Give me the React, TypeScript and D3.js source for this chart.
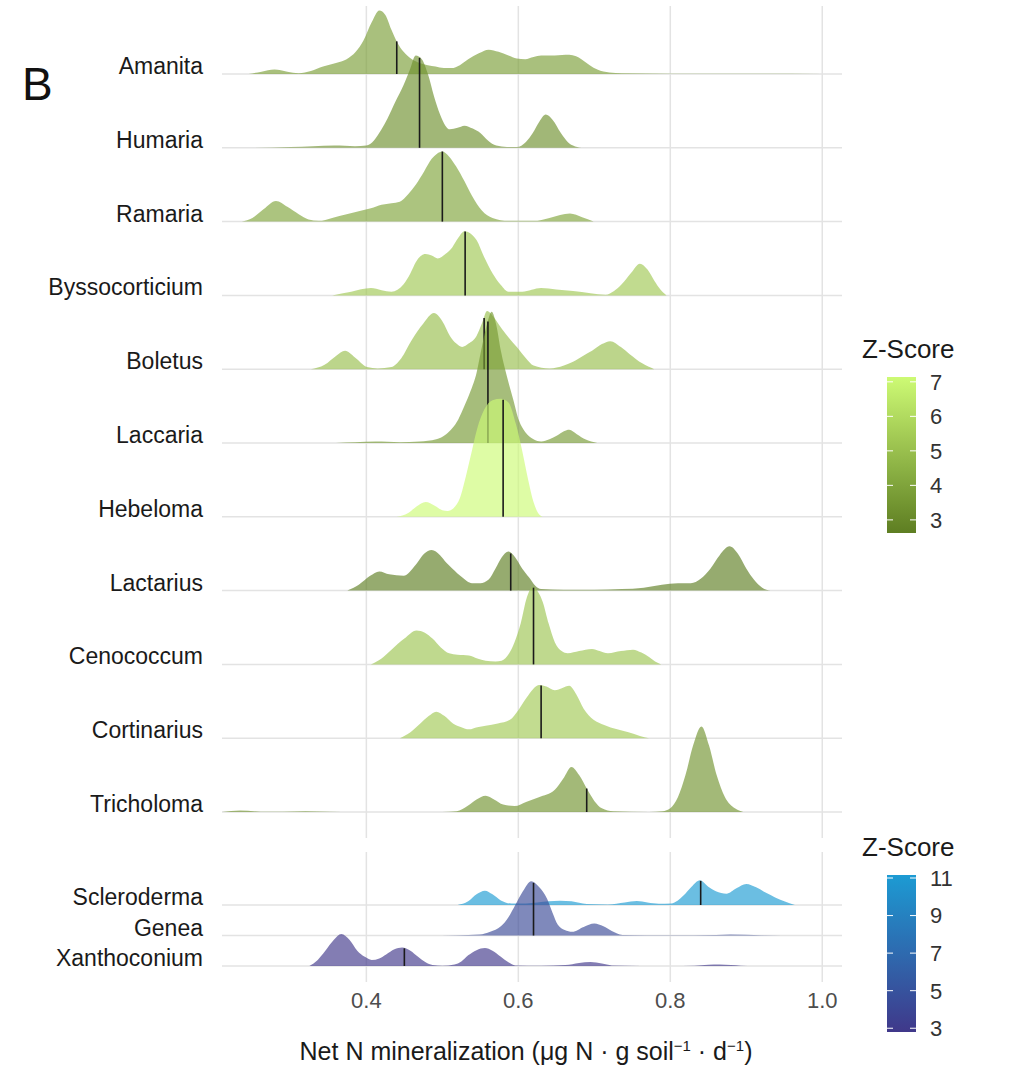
import * as d3 from "d3";

type Pt = [number, number];

// ridge densities: [net N mineralization, ridge height in row units]
const amanita: Pt[] = [[0.245,0],[0.262,0.03],[0.279,0.06],[0.296,0.03],[0.311,0.01],[0.327,0.04],[0.343,0.1],[0.36,0.15],[0.374,0.2],[0.386,0.3],[0.396,0.45],[0.407,0.7],[0.417,0.86],[0.425,0.8],[0.433,0.6],[0.441,0.42],[0.449,0.3],[0.46,0.2],[0.47,0.15],[0.481,0.12],[0.491,0.1],[0.502,0.08],[0.512,0.08],[0.523,0.12],[0.534,0.2],[0.548,0.28],[0.561,0.33],[0.574,0.3],[0.587,0.25],[0.598,0.21],[0.609,0.2],[0.62,0.23],[0.63,0.25],[0.648,0.25],[0.667,0.26],[0.676,0.24],[0.683,0.2],[0.694,0.12],[0.704,0.06],[0.72,0.02],[0.736,0.01],[0.8,0.005],[0.9,0.003],[1.0,0]];
const humaria: Pt[] = [[0.245,0],[0.3,0.01],[0.33,0.02],[0.358,0.03],[0.385,0.02],[0.4,0.03],[0.41,0.1],[0.42,0.25],[0.428,0.4],[0.438,0.62],[0.449,0.85],[0.457,1.05],[0.465,1.25],[0.473,1.2],[0.481,1.0],[0.489,0.7],[0.497,0.45],[0.504,0.3],[0.51,0.25],[0.52,0.27],[0.529,0.3],[0.54,0.26],[0.55,0.2],[0.56,0.1],[0.571,0.03],[0.585,0.01],[0.598,0.01],[0.61,0.08],[0.619,0.2],[0.628,0.36],[0.636,0.45],[0.645,0.38],[0.656,0.2],[0.665,0.08],[0.672,0.03],[0.683,0]];
const ramaria: Pt[] = [[0.236,0],[0.25,0.05],[0.265,0.17],[0.281,0.28],[0.296,0.2],[0.311,0.1],[0.324,0.03],[0.337,0.01],[0.355,0.05],[0.374,0.1],[0.39,0.14],[0.406,0.18],[0.42,0.23],[0.433,0.25],[0.444,0.27],[0.455,0.37],[0.465,0.5],[0.476,0.68],[0.486,0.85],[0.493,0.92],[0.5,0.95],[0.509,0.88],[0.518,0.75],[0.529,0.55],[0.539,0.35],[0.552,0.15],[0.566,0.05],[0.587,0.01],[0.62,0.01],[0.641,0.05],[0.655,0.09],[0.668,0.11],[0.684,0.06],[0.699,0]];
const byssocorticium: Pt[] = [[0.355,0],[0.38,0.05],[0.406,0.1],[0.42,0.07],[0.433,0.05],[0.449,0.15],[0.458,0.3],[0.465,0.45],[0.478,0.56],[0.486,0.54],[0.494,0.5],[0.504,0.56],[0.513,0.65],[0.521,0.78],[0.529,0.87],[0.537,0.84],[0.545,0.75],[0.555,0.52],[0.566,0.3],[0.577,0.14],[0.587,0.05],[0.605,0.05],[0.63,0.1],[0.65,0.08],[0.672,0.06],[0.695,0.03],[0.715,0.01],[0.726,0.06],[0.736,0.15],[0.748,0.3],[0.76,0.43],[0.77,0.35],[0.779,0.2],[0.787,0.08],[0.795,0]];
const boletus: Pt[] = [[0.327,0],[0.345,0.06],[0.36,0.18],[0.372,0.25],[0.385,0.16],[0.401,0.03],[0.415,0.01],[0.433,0.03],[0.446,0.15],[0.46,0.4],[0.475,0.62],[0.489,0.76],[0.5,0.65],[0.51,0.45],[0.518,0.35],[0.526,0.3],[0.535,0.35],[0.545,0.45],[0.552,0.62],[0.559,0.79],[0.568,0.7],[0.578,0.55],[0.588,0.42],[0.598,0.3],[0.61,0.15],[0.62,0.05],[0.641,0.01],[0.66,0.05],[0.672,0.1],[0.685,0.18],[0.697,0.25],[0.71,0.34],[0.721,0.38],[0.735,0.3],[0.747,0.2],[0.763,0.08],[0.779,0]];
const laccaria: Pt[] = [[0.36,0],[0.385,0.01],[0.412,0.02],[0.444,0.01],[0.47,0.02],[0.492,0.05],[0.505,0.12],[0.513,0.2],[0.521,0.32],[0.529,0.5],[0.537,0.7],[0.545,0.95],[0.552,1.3],[0.559,1.62],[0.565,1.78],[0.571,1.6],[0.577,1.25],[0.585,0.9],[0.593,0.6],[0.601,0.3],[0.609,0.15],[0.62,0.05],[0.63,0.02],[0.641,0.05],[0.651,0.1],[0.66,0.16],[0.667,0.18],[0.677,0.12],[0.688,0.05],[0.704,0]];
const hebeloma: Pt[] = [[0.44,0],[0.455,0.05],[0.466,0.14],[0.478,0.2],[0.49,0.15],[0.5,0.09],[0.507,0.08],[0.515,0.12],[0.523,0.25],[0.531,0.55],[0.539,0.9],[0.546,1.2],[0.555,1.45],[0.566,1.58],[0.577,1.6],[0.587,1.55],[0.597,1.25],[0.605,0.9],[0.613,0.5],[0.62,0.2],[0.626,0.05],[0.632,0]];
const lactarius: Pt[] = [[0.375,0],[0.39,0.08],[0.405,0.2],[0.417,0.26],[0.43,0.22],[0.449,0.2],[0.465,0.35],[0.476,0.5],[0.486,0.55],[0.497,0.48],[0.505,0.38],[0.513,0.3],[0.526,0.18],[0.539,0.1],[0.55,0.1],[0.561,0.15],[0.57,0.3],[0.578,0.45],[0.587,0.53],[0.596,0.45],[0.605,0.3],[0.614,0.18],[0.622,0.07],[0.63,0.02],[0.66,0.01],[0.7,0.01],[0.736,0.02],[0.765,0.04],[0.789,0.08],[0.81,0.1],[0.827,0.1],[0.84,0.16],[0.853,0.3],[0.865,0.48],[0.878,0.6],[0.889,0.5],[0.9,0.3],[0.91,0.15],[0.921,0.04],[0.932,0]];
const cenococcum: Pt[] = [[0.406,0],[0.42,0.08],[0.433,0.2],[0.45,0.35],[0.466,0.46],[0.477,0.43],[0.487,0.35],[0.498,0.23],[0.509,0.15],[0.52,0.13],[0.535,0.12],[0.546,0.08],[0.557,0.05],[0.57,0.04],[0.578,0.05],[0.588,0.15],[0.595,0.3],[0.603,0.55],[0.611,0.9],[0.619,1.05],[0.626,0.98],[0.632,0.85],[0.64,0.55],[0.648,0.3],[0.657,0.18],[0.665,0.15],[0.68,0.18],[0.697,0.21],[0.707,0.18],[0.718,0.15],[0.735,0.18],[0.751,0.2],[0.762,0.16],[0.772,0.1],[0.78,0.04],[0.788,0]];
const cortinarius: Pt[] = [[0.444,0],[0.458,0.08],[0.471,0.2],[0.482,0.3],[0.492,0.36],[0.503,0.3],[0.514,0.2],[0.525,0.15],[0.535,0.12],[0.546,0.15],[0.557,0.17],[0.573,0.2],[0.589,0.25],[0.6,0.38],[0.611,0.55],[0.619,0.66],[0.627,0.72],[0.637,0.7],[0.648,0.65],[0.658,0.68],[0.667,0.71],[0.676,0.6],[0.686,0.4],[0.699,0.25],[0.713,0.18],[0.73,0.12],[0.745,0.08],[0.76,0.03],[0.772,0]];
const tricholoma: Pt[] = [[0.21,0],[0.234,0.02],[0.261,0.005],[0.29,0.005],[0.32,0.01],[0.35,0.005],[0.385,0],[0.5,0],[0.519,0.01],[0.533,0.08],[0.545,0.17],[0.557,0.22],[0.568,0.17],[0.58,0.1],[0.595,0.08],[0.611,0.14],[0.627,0.2],[0.648,0.3],[0.659,0.45],[0.67,0.61],[0.68,0.5],[0.691,0.3],[0.7,0.15],[0.71,0.05],[0.725,0.01],[0.772,0],[0.79,0.01],[0.8,0.05],[0.81,0.2],[0.82,0.5],[0.83,0.9],[0.841,1.16],[0.851,0.9],[0.861,0.5],[0.872,0.2],[0.885,0.05],[0.896,0]];

const scleroderma: Pt[] = [[0.52,0],[0.534,0.12],[0.545,0.35],[0.556,0.47],[0.566,0.35],[0.577,0.15],[0.591,0.05],[0.61,0.05],[0.625,0.08],[0.64,0.12],[0.655,0.14],[0.67,0.12],[0.69,0.03],[0.718,0.02],[0.74,0.08],[0.756,0.13],[0.77,0.08],[0.785,0.04],[0.801,0.05],[0.81,0.15],[0.817,0.3],[0.828,0.6],[0.839,0.81],[0.85,0.6],[0.86,0.45],[0.874,0.37],[0.887,0.55],[0.9,0.69],[0.913,0.58],[0.926,0.4],[0.938,0.25],[0.95,0.12],[0.964,0]];
const genea: Pt[] = [[0.478,0],[0.52,0.01],[0.549,0.03],[0.563,0.12],[0.577,0.3],[0.587,0.6],[0.596,1.0],[0.606,1.45],[0.617,1.78],[0.627,1.6],[0.638,1.2],[0.645,0.75],[0.652,0.35],[0.661,0.18],[0.671,0.12],[0.686,0.28],[0.7,0.39],[0.712,0.3],[0.723,0.15],[0.737,0.02],[0.8,0.01],[0.86,0.02],[0.879,0.03],[0.92,0.01],[0.973,0]];
const xanthoconium: Pt[] = [[0.325,0],[0.336,0.2],[0.346,0.5],[0.357,0.85],[0.367,1.05],[0.378,0.85],[0.388,0.5],[0.398,0.3],[0.407,0.2],[0.417,0.25],[0.426,0.38],[0.437,0.55],[0.447,0.61],[0.458,0.5],[0.468,0.3],[0.478,0.12],[0.487,0.03],[0.5,0.01],[0.516,0.05],[0.525,0.15],[0.534,0.35],[0.545,0.52],[0.556,0.59],[0.566,0.5],[0.577,0.3],[0.587,0.12],[0.596,0.02],[0.63,0.01],[0.662,0.03],[0.68,0.1],[0.695,0.13],[0.71,0.08],[0.723,0.02],[0.8,0],[0.832,0.01],[0.85,0.04],[0.865,0.05],[0.88,0.03],[0.893,0.01],[0.91,0]];

const topGenera = ["Amanita", "Humaria", "Ramaria", "Byssocorticium", "Boletus", "Laccaria", "Hebeloma", "Lactarius", "Cenococcum", "Cortinarius", "Tricholoma"];
const topDensities = [amanita, humaria, ramaria, byssocorticium, boletus, laccaria, hebeloma, lactarius, cenococcum, cortinarius, tricholoma];
const topMedians = [0.44, 0.47, 0.5, 0.53, 0.555, 0.56, 0.58, 0.59, 0.62, 0.63, 0.69];
const topZ = [3.8, 3.3, 4.0, 5.3, 5.0, 3.6, 7.14, 2.62, 5.2, 5.4, 3.4];

const bottomGenera = ["Scleroderma", "Genea", "Xanthoconium"];
const bottomDensities = [scleroderma, genea, xanthoconium];
const bottomMedians = [0.84, 0.62, 0.45];
const bottomZ = [11.16, 4.2, 2.8];

const xTicks = [0.4, 0.6, 0.8, 1.0];
const topLegendTicks = [3, 4, 5, 6, 7];
const bottomLegendTicks = [3, 5, 7, 9, 11];

const FONT = "Liberation Sans, Arial, sans-serif";

const x = d3.scaleLinear().domain([0.21, 1.026]).range([222, 842]);
const yTop = d3.scalePoint().domain(topGenera).range([74, 812]);
const yBottom = d3.scalePoint().domain(bottomGenera).range([905, 966]);

const greenFill = d3.scaleLinear<string>().domain([2.62, 7.14]).range(["#5e7e22", "#cdfa74"]);
const blueFill = d3.scaleLinear<string>().domain([2.8, 11.16]).range(["#40388a", "#1c9bd3"]);

// density height at a given x, by linear interpolation between read points
function heightAt(pts: Pt[], v: number) {
  for (let i = 1; i < pts.length; i++) {
    if (pts[i][0] >= v) {
      const [x0, h0] = pts[i - 1];
      const [x1, h1] = pts[i];
      return h0 + ((v - x0) / (x1 - x0)) * (h1 - h0);
    }
  }
  return 0;
}

function Ridges({ genera, densities, medians, zs, yScale, fill }) {
  const unit = d3.scaleLinear().domain([0, 1]).range([0, yScale.step()]);
  return (
    <g>
      {genera.map((g, i) => {
        const base = yScale(g);
        const area = d3
          .area<Pt>()
          .x((d) => x(d[0]))
          .y0(base)
          .y1((d) => base - unit(d[1]))
          .curve(d3.curveMonotoneX);
        const m = medians[i];
        return (
          <g key={g}>
            <path d={area(densities[i]) ?? ""} fill={fill(zs[i])} fillOpacity={0.65} />
            <line x1={x(m)} x2={x(m)} y1={base} y2={base - unit(heightAt(densities[i], m))} stroke="#1a1a1a" strokeWidth={1.6} />
          </g>
        );
      })}
    </g>
  );
}

function Legend({ top, domain, ticks, color, barTop, barBottom, id }) {
  const s = d3.scaleLinear().domain(domain).range([barBottom, barTop]);
  const stops = d3.range(0, 1.001, 0.1);
  return (
    <g>
      <defs>
        <linearGradient id={id} x1="0" y1="1" x2="0" y2="0">
          {stops.map((t) => (
            <stop key={t} offset={t} stopColor={color(domain[0] + t * (domain[1] - domain[0]))} />
          ))}
        </linearGradient>
      </defs>
      <text x={862} y={top} fontSize={26} fill="#1a1a1a" fontFamily={FONT}>Z-Score</text>
      <rect x={887} y={barTop} width={29} height={barBottom - barTop} fill={`url(#${id})`} />
      {ticks.map((t) => (
        <g key={t}>
          <line x1={887} x2={893} y1={s(t)} y2={s(t)} stroke="#fff" strokeWidth={1} />
          <line x1={910} x2={916} y1={s(t)} y2={s(t)} stroke="#fff" strokeWidth={1} />
          <text x={930} y={s(t)} dy="0.36em" fontSize={22} fill="#333" fontFamily={FONT}>{t}</text>
        </g>
      ))}
    </g>
  );
}

export default function App() {
  return (
    <svg width={1021} height={1081} style={{ position: "absolute", left: 0, top: 0, background: "#fff" }}>
      <rect width={1021} height={1081} fill="#fff" />
      {/* grid */}
      {xTicks.map((t) => (
        <g key={t}>
          <line x1={x(t)} x2={x(t)} y1={6} y2={838} stroke="#e3e3e3" strokeWidth={1.5} />
          <line x1={x(t)} x2={x(t)} y1={852} y2={982} stroke="#e3e3e3" strokeWidth={1.5} />
        </g>
      ))}
      {topGenera.map((g) => (
        <line key={g} x1={222} x2={842} y1={yTop(g)} y2={yTop(g)} stroke="#e3e3e3" strokeWidth={1.5} />
      ))}
      {bottomGenera.map((g) => (
        <line key={g} x1={222} x2={842} y1={yBottom(g)} y2={yBottom(g)} stroke="#e3e3e3" strokeWidth={1.5} />
      ))}

      <Ridges genera={topGenera} densities={topDensities} medians={topMedians} zs={topZ} yScale={yTop} fill={greenFill} />
      <Ridges genera={bottomGenera} densities={bottomDensities} medians={bottomMedians} zs={bottomZ} yScale={yBottom} fill={blueFill} />

      {/* row labels */}
      {topGenera.map((g) => (
        <text key={g} x={203} y={yTop(g)} textAnchor="end" fontSize={23} fill="#1a1a1a" fontFamily={FONT}>{g}</text>
      ))}
      {bottomGenera.map((g) => (
        <text key={g} x={203} y={yBottom(g)} textAnchor="end" fontSize={23} fill="#1a1a1a" fontFamily={FONT}>{g}</text>
      ))}

      {/* x axis */}
      {xTicks.map((t) => (
        <text key={t} x={x(t)} y={1008} textAnchor="middle" fontSize={22} fill="#4d4d4d" fontFamily={FONT}>{d3.format(".1f")(t)}</text>
      ))}
      <text x={526} y={1060} textAnchor="middle" fontSize={25} fill="#1a1a1a" fontFamily={FONT}>
        Net N mineralization (μg N · g soil
        <tspan dy={-9} fontSize={15}>−1</tspan>
        <tspan dy={9}> · d</tspan>
        <tspan dy={-9} fontSize={15}>−1</tspan>
        <tspan dy={9}>)</tspan>
      </text>

      <text x={22} y={100} fontSize={46} fill="#111" fontFamily={FONT}>B</text>

      <Legend top={358} domain={[2.62, 7.14]} ticks={topLegendTicks} color={greenFill} barTop={377} barBottom={533} id="gGreen" />
      <Legend top={856} domain={[2.8, 11.16]} ticks={bottomLegendTicks} color={blueFill} barTop={875} barBottom={1032} id="gBlue" />
    </svg>
  );
}
